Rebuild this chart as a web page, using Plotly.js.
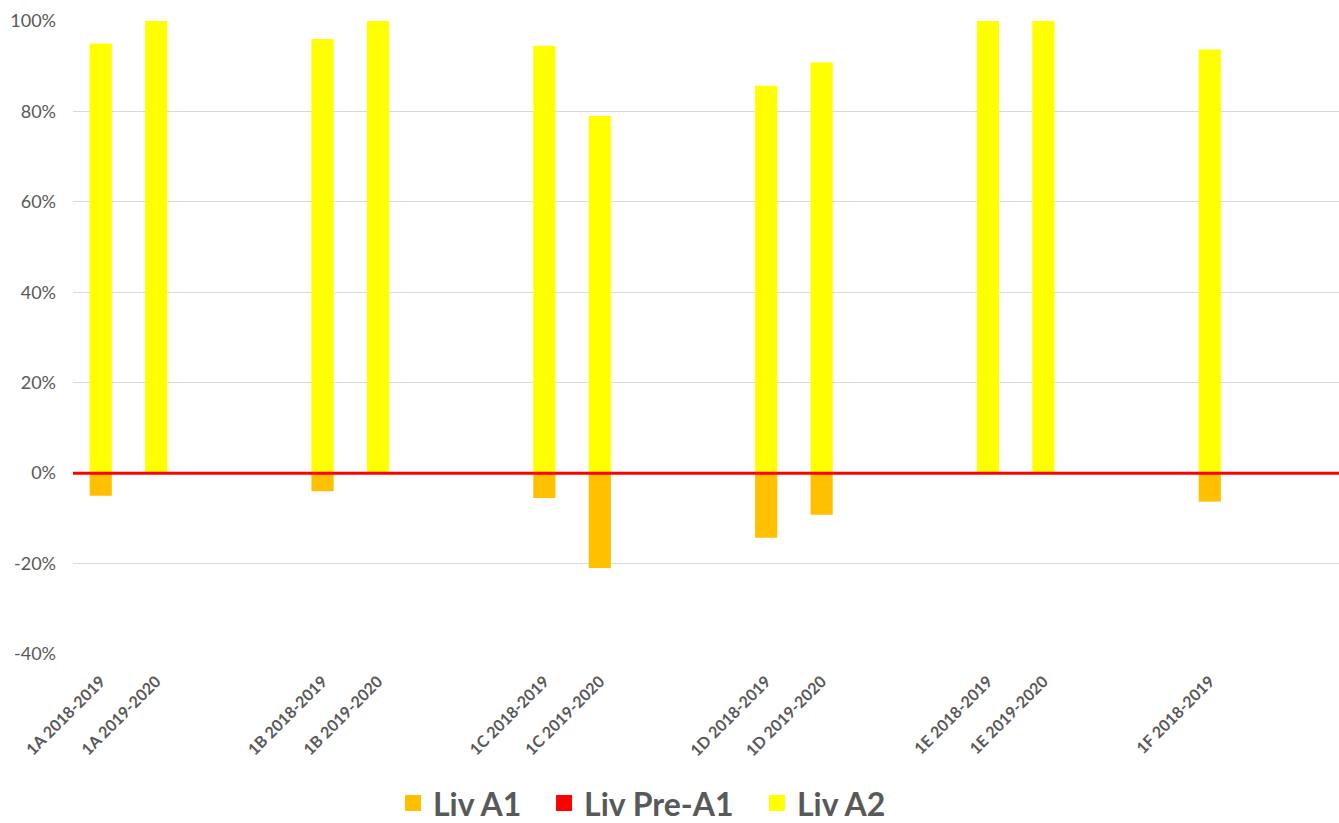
<!DOCTYPE html>
<html>
<head>
<meta charset="utf-8">
<script src="https://cdn.plot.ly/plotly-3.0.1.min.js"></script>
<style>html,body{margin:0;padding:0;background:#fff;}#chart{width:1339px;height:823px;}</style>
</head>
<body>
<div id="chart"></div>
<script>
var categories = ["1A 2018-2019","1A 2019-2020"," ","  ","1B 2018-2019","1B 2019-2020","   ","    ",
  "1C 2018-2019","1C 2019-2020","     ","      ","1D 2018-2019","1D 2019-2020","       ","        ",
  "1E 2018-2019","1E 2019-2020","         ","          ","1F 2018-2019"];
var livA1 =    [-5, 0, null, null, -4, 0, null, null, -5.5, -21, null, null, -14.3, -9.2, null, null, 0, 0, null, null, -6.3];
var livPreA1 = [0, 0, null, null, 0, 0, null, null, 0, 0, null, null, 0, 0, null, null, 0, 0, null, null, 0];
var livA2 =    [95, 100, null, null, 96, 100, null, null, 94.5, 79, null, null, 85.7, 90.8, null, null, 100, 100, null, null, 93.7];
var seriesNames = ["Liv A1", "Liv Pre-A1", "Liv A2"];
var seriesColors = ["#FFC000", "#FF0000", "#FFFF00"];
var yTickVals = [-0.4, -0.2, 0, 0.2, 0.4, 0.6, 0.8, 1.0];
var yTickText = ["-40%", "-20%", "0%", "20%", "40%", "60%", "80%", "100%"];

var toFrac = function(a){ return a.map(function(v){ return v === null ? null : v/100; }); };
var seriesValues = [livA1, livPreA1, livA2];
var legendIds = ['legend', 'legend2', 'legend3'];
var legendX = [0.2935, 0.4063, 0.5653];

var traces = [];
seriesValues.forEach(function(vals, i){
  traces.push({type:'bar', name:seriesNames[i], x:categories, y:toFrac(vals),
    marker:{color:seriesColors[i]}, width:0.4, showlegend:false});
});
seriesNames.forEach(function(n, i){
  traces.push({type:'scatter', mode:'markers', name:n, x:[null], y:[null], legend:legendIds[i],
    marker:{symbol:'square', size:16, color:seriesColors[i]}, showlegend:true});
});

var layout = {
  width:1339, height:823,
  margin:{l:73, r:0, t:21, b:169},
  paper_bgcolor:'#fff', plot_bgcolor:'#fff',
  barmode:'relative',
  showlegend:true,
  font:{family:'Lato, "Open Sans", sans-serif', color:'#595959'},
  xaxis:{
    type:'category', range:[-0.5, 22.33], tickangle:-45,
    showgrid:false, zeroline:false, showline:false, ticks:'',
    tickfont:{size:16, color:'#595959', family:'Lato, sans-serif', weight:'bold'},
    ticklabelstandoff:14, automargin:false
  },
  yaxis:{
    range:[-0.4, 1.0], tickmode:'array', tickvals:yTickVals, ticktext:yTickText,
    gridcolor:'#d9d9d9', gridwidth:1, zeroline:false, showline:false,
    tickfont:{size:18, color:'#595959'}, ticklabelstandoff:16, automargin:false
  },
  shapes:[{type:'line', xref:'paper', x0:0, x1:1, yref:'y', y0:0, y1:0, layer:'above', line:{color:'#FF0000', width:3}}]
};
legendIds.forEach(function(id, i){
  layout[id] = {orientation:'h', xref:'container', yref:'container', x:legendX[i], xanchor:'left',
    y:0.024, yanchor:'middle', bgcolor:'rgba(0,0,0,0)',
    font:{size:32, color:'#595959', family:'Lato, sans-serif', weight:'bold'}, itemwidth:30};
});

Plotly.newPlot('chart', traces, layout, {displayModeBar:false, staticPlot:true});
</script>
</body>
</html>
